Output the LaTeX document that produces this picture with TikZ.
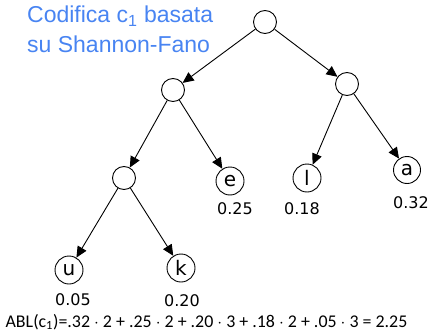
\documentclass[tikz,border=0pt]{standalone}
\usepackage{fontspec}
\setmainfont{DejaVu Sans}
\newfontfamily\titlefont{Liberation Sans}
\newfontfamily\formfont{Carlito}
\usetikzlibrary{arrows.meta}
\definecolor{titleblue}{RGB}{72,132,242}
\begin{document}
\begin{tikzpicture}[x=1pt,y=-1pt,
  inner/.style={circle,draw,line width=0.9pt,minimum size=23pt,inner sep=0pt},
  leaf/.style={circle,draw,line width=0.9pt,minimum size=28pt,inner sep=0pt,font=\fontsize{20}{20}\selectfont},
  prob/.style={font=\fontsize{16}{16}\selectfont},
  title/.style={anchor=base west,text=titleblue,font=\titlefont\fontsize{23}{23}\selectfont,inner sep=0pt},
  edge/.style={line width=0.9pt,-{Triangle[length=11pt,width=10pt]}}]
\useasboundingbox (0,0) rectangle (430,334);
\node[inner] (root) at (265,22) {};
\node[inner] (L) at (173,90) {};
\node[inner] (R) at (347,84) {};
\node[inner] (LL) at (124,178) {};
\node[leaf] (e) at (230,181) {e};
\node[leaf] (l) at (307,178) {l};
\node[leaf,minimum size=27pt] (a) at (407,170) {a};
\node[leaf] (u) at (69,270) {u};
\node[leaf] (k) at (181,268) {k};
\node[prob] (pe) at (235,209) {0.25};
\node[prob] (pl) at (302,209) {0.18};
\node[prob] (pa) at (411,203) {0.32};
\node[prob] (pu) at (73,300) {0.05};
\node[prob] (pk) at (182,301) {0.20};
\draw[edge] (root) -- (L);
\draw[edge] (root) -- (R);
\draw[edge] (L) -- (LL);
\draw[edge] (L) -- (e);
\draw[edge] (R) -- (l);
\draw[edge] (R) -- (a);
\draw[edge] (LL) -- (u);
\draw[edge] (LL) -- (k);
\node[title] (t1) at (27,23) {Codifica c\textsubscript{1} basata};
\node[title] (t2) at (27,53) {su Shannon-Fano};
\node[font=\formfont\fontsize{17.9}{17.9}\selectfont,inner sep=0pt] (abl) at (206.5,322) {ABL(c\textsubscript{1})=.32 $\cdot$ 2 + .25 $\cdot$ 2 + .20 $\cdot$ 3 + .18 $\cdot$ 2 + .05 $\cdot$ 3 = 2.25};
\end{tikzpicture}
\end{document}
